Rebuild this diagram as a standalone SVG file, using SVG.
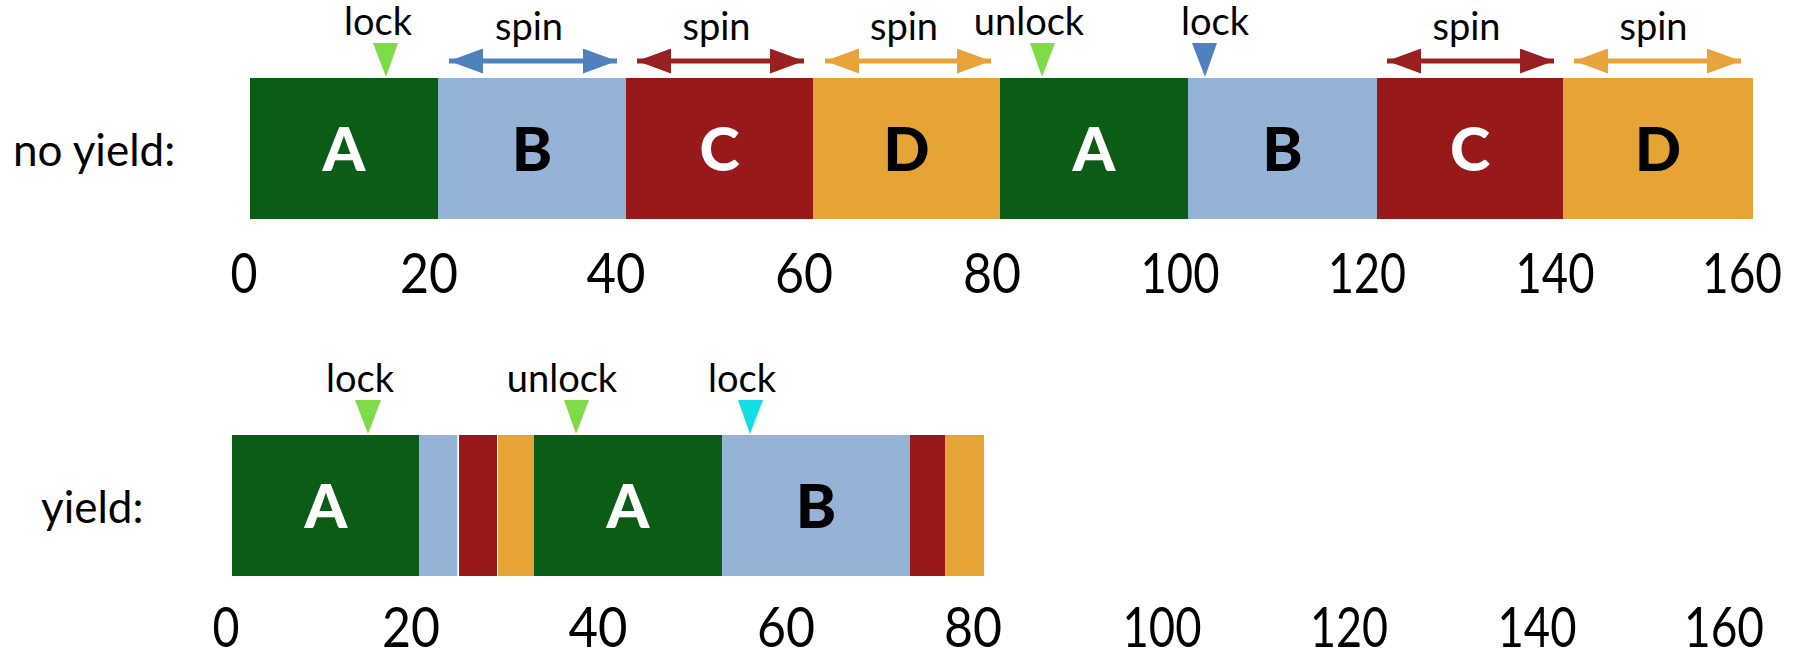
<svg xmlns="http://www.w3.org/2000/svg" width="1802" height="655" viewBox="0 0 1802 655">
<style>
.lbl{font-family:Lato,"Open Sans",sans-serif;fill:#000;}
.ev{font-size:38px;text-anchor:middle;}
.row{font-size:44px;}
.num{font-size:56px;text-anchor:middle;}
.big{font-family:Lato,"Liberation Sans",sans-serif;font-weight:900;font-size:61px;text-anchor:middle;}
.w{fill:#fff;}
.k{fill:#000;}
.gA{fill:#0B5C14;}
.gB{fill:#95B3D7;}
.gC{fill:#971919;}
.gD{fill:#E7A436;}
.tri-g{fill:#7EDD46;}
.tri-b{fill:#4F81BD;}
.tri-c{fill:#14DCE4;}
</style>
<defs>
<marker id="ah-blue" viewBox="0 0 34 25" refX="34" refY="12.5" markerWidth="34" markerHeight="25" markerUnits="userSpaceOnUse" orient="auto-start-reverse"><path d="M0,0 L34,12.5 L0,25 Z" fill="#4F81BD"/></marker>
<marker id="ah-red" viewBox="0 0 34 25" refX="34" refY="12.5" markerWidth="34" markerHeight="25" markerUnits="userSpaceOnUse" orient="auto-start-reverse"><path d="M0,0 L34,12.5 L0,25 Z" fill="#992020"/></marker>
<marker id="ah-orange" viewBox="0 0 34 25" refX="34" refY="12.5" markerWidth="34" markerHeight="25" markerUnits="userSpaceOnUse" orient="auto-start-reverse"><path d="M0,0 L34,12.5 L0,25 Z" fill="#E8A33A"/></marker>
</defs>

<text class="lbl row" x="13" y="166">no yield:</text>
<text class="lbl row" x="41" y="523">yield:</text>

<g id="top-A1"><rect class="gA" x="250" y="78" width="188" height="141"/><text class="big w" x="344" y="171">A</text></g>
<g id="top-B1"><rect class="gB" x="438" y="78" width="188" height="141"/><text class="big k" x="532" y="171">B</text></g>
<g id="top-C1"><rect class="gC" x="626" y="78" width="187" height="141"/><text class="big w" x="719.5" y="171">C</text></g>
<g id="top-D1"><rect class="gD" x="813" y="78" width="187" height="141"/><text class="big k" x="906.5" y="171">D</text></g>
<g id="top-A2"><rect class="gA" x="1000" y="78" width="188" height="141"/><text class="big w" x="1094" y="171">A</text></g>
<g id="top-B2"><rect class="gB" x="1188" y="78" width="189" height="141"/><text class="big k" x="1282.5" y="171">B</text></g>
<g id="top-C2"><rect class="gC" x="1377" y="78" width="186" height="141"/><text class="big w" x="1470" y="171">C</text></g>
<g id="top-D2"><rect class="gD" x="1563" y="78" width="190" height="141"/><text class="big k" x="1658" y="171">D</text></g>

<g id="bot-A1"><rect class="gA" x="232" y="435" width="187" height="141"/><text class="big w" x="326" y="528">A</text></g>
<g id="bot-B1"><rect class="gB" x="419" y="435" width="38.3" height="141"/></g>
<g id="bot-C1"><rect class="gC" x="459" y="435" width="38" height="141"/></g>
<g id="bot-D1"><rect class="gD" x="498" y="435" width="36" height="141"/></g>
<g id="bot-A2"><rect class="gA" x="534" y="435" width="188" height="141"/><text class="big w" x="628" y="528">A</text></g>
<g id="bot-B2"><rect class="gB" x="722" y="435" width="188" height="141"/><text class="big k" x="816" y="528">B</text></g>
<g id="bot-C2"><rect class="gC" x="910" y="435" width="35" height="141"/></g>
<g id="bot-D2"><rect class="gD" x="945" y="435" width="39" height="141"/></g>

<g id="events">
<g id="ev-top-lock"><text class="lbl ev" x="378" y="35">lock</text><path class="tri-g" d="M373,43 L398,43 L386,77 Z"/></g>
<g id="ev-top-unlock"><text class="lbl ev" x="1029" y="35">unlock</text><path class="tri-g" d="M1030,43 L1055,43 L1042,77 Z"/></g>
<g id="ev-top-lock2"><text class="lbl ev" x="1215" y="35">lock</text><path class="tri-b" d="M1192,43 L1217,43 L1205,77 Z"/></g>
<g id="ev-bot-lock"><text class="lbl ev" x="360" y="392">lock</text><path class="tri-g" d="M355,400 L381,400 L368,434 Z"/></g>
<g id="ev-bot-unlock"><text class="lbl ev" x="562" y="392">unlock</text><path class="tri-g" d="M564,400 L589,400 L576,434 Z"/></g>
<g id="ev-bot-lock2"><text class="lbl ev" x="742" y="392">lock</text><path class="tri-c" d="M738,400 L763,400 L750,434 Z"/></g>
<text class="lbl ev" x="529" y="40">spin</text>
<text class="lbl ev" x="716.5" y="40">spin</text>
<text class="lbl ev" x="904" y="40">spin</text>
<text class="lbl ev" x="1466.5" y="40">spin</text>
<text class="lbl ev" x="1653.5" y="40">spin</text>
</g>

<g id="connectors" stroke-width="5" fill="none">
<line x1="449" y1="61" x2="617" y2="61" stroke="#4F81BD" marker-start="url(#ah-blue)" marker-end="url(#ah-blue)"/>
<line x1="637" y1="61" x2="804" y2="61" stroke="#992020" marker-start="url(#ah-red)" marker-end="url(#ah-red)"/>
<line x1="825" y1="61" x2="991" y2="61" stroke="#E8A33A" marker-start="url(#ah-orange)" marker-end="url(#ah-orange)"/>
<line x1="1387" y1="61" x2="1554" y2="61" stroke="#992020" marker-start="url(#ah-red)" marker-end="url(#ah-red)"/>
<line x1="1574" y1="61" x2="1741" y2="61" stroke="#E8A33A" marker-start="url(#ah-orange)" marker-end="url(#ah-orange)"/>
</g>

<g id="axis-top" class="lbl num">
<text x="244" y="293" textLength="27" lengthAdjust="spacingAndGlyphs">0</text>
<text x="429" y="293" textLength="58" lengthAdjust="spacingAndGlyphs">20</text>
<text x="616" y="293" textLength="59" lengthAdjust="spacingAndGlyphs">40</text>
<text x="804" y="293" textLength="58" lengthAdjust="spacingAndGlyphs">60</text>
<text x="992" y="293" textLength="58" lengthAdjust="spacingAndGlyphs">80</text>
<text x="1180" y="293" textLength="79" lengthAdjust="spacingAndGlyphs">100</text>
<text x="1367" y="293" textLength="78" lengthAdjust="spacingAndGlyphs">120</text>
<text x="1555" y="293" textLength="79" lengthAdjust="spacingAndGlyphs">140</text>
<text x="1742" y="293" textLength="80" lengthAdjust="spacingAndGlyphs">160</text>
</g>
<g id="axis-bottom" class="lbl num">
<text x="226" y="647" textLength="27" lengthAdjust="spacingAndGlyphs">0</text>
<text x="411" y="647" textLength="58" lengthAdjust="spacingAndGlyphs">20</text>
<text x="598" y="647" textLength="59" lengthAdjust="spacingAndGlyphs">40</text>
<text x="786" y="647" textLength="58" lengthAdjust="spacingAndGlyphs">60</text>
<text x="973" y="647" textLength="58" lengthAdjust="spacingAndGlyphs">80</text>
<text x="1162" y="647" textLength="79" lengthAdjust="spacingAndGlyphs">100</text>
<text x="1349" y="647" textLength="78" lengthAdjust="spacingAndGlyphs">120</text>
<text x="1537" y="647" textLength="79" lengthAdjust="spacingAndGlyphs">140</text>
<text x="1724" y="647" textLength="80" lengthAdjust="spacingAndGlyphs">160</text>
</g>
</svg>
